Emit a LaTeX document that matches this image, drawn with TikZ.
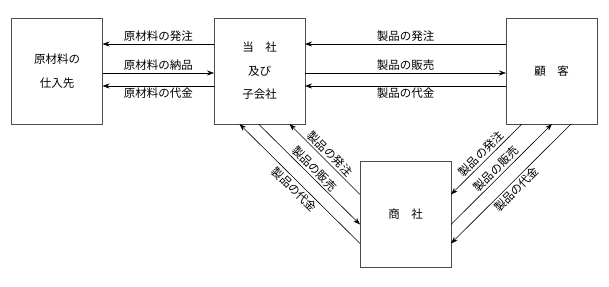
\documentclass[tikz,border=0pt]{standalone}
\usepackage{fontspec}
\newfontfamily\jpfont{Noto Sans CJK JP}
\usetikzlibrary{arrows.meta, positioning}

\begin{document}
\begin{tikzpicture}[
  x=1pt, y=-1pt,
  box/.style={draw=black!70, line width=0.9pt, minimum width=91pt,
              minimum height=106pt, inner sep=0pt, outer sep=0pt, align=center,
              font=\jpfont\fontsize{11.5}{23.5}\selectfont},
  lbl/.style={font=\jpfont\fontsize{11.5}{14}\selectfont, inner sep=2pt},
  arr/.style={-{Stealth[length=7pt, width=5pt]}, line width=0.6pt}
]
\useasboundingbox (0,0) rectangle (609,286);

%% ── BOXES ────────────────────────────────────────────────────────────────────

\node[box] (sup) at (57,71) {原材料の\\仕入先};

\node[box, right=111.5pt of sup] (comp) {当　社\\及び\\子会社};

\node[box, right=201pt of comp] (cust) {顧　客};

\node[box] (trade) at (405.5,214.5) {商　社};

%% ── ARROWS: supplier ─────────────────────────────────────────────────────────

\draw[arr] ([yshift=27pt]comp.west) -- node[lbl, above] {原材料の発注} ([yshift=27pt]sup.east);
\draw[arr] ([yshift=-2pt]sup.east)  -- node[lbl, above] {原材料の納品} ([yshift=-2pt]comp.west);
\draw[arr] ([yshift=-15pt]comp.west) -- node[lbl, below] {原材料の代金} ([yshift=-15pt]sup.east);

%% ── ARROWS: customer ─────────────────────────────────────────────────────────

\draw[arr] ([yshift=27pt]cust.west) -- node[lbl, above] {製品の発注} ([yshift=27pt]comp.east);
\draw[arr] ([yshift=-2pt]comp.east) -- node[lbl, above] {製品の販売} ([yshift=-2pt]cust.west);
\draw[arr] ([yshift=-15pt]cust.west) -- node[lbl, below] {製品の代金} ([yshift=-15pt]comp.east);

%% ── ARROWS: trading company ──────────────────────────────────────────────────

\draw[arr] ([yshift=20pt]trade.west)  -- node[lbl, sloped, above] {製品の発注} ([xshift=30pt]comp.south);
\draw[arr] ([xshift=-1pt]comp.south)  -- node[lbl, sloped, above] {製品の販売} ([yshift=-10pt]trade.west);
\draw[arr] ([yshift=-29pt]trade.west) -- node[lbl, sloped, below] {製品の代金} ([xshift=-20pt]comp.south);

\draw[arr] ([xshift=-29.5pt]cust.south) -- node[lbl, sloped, above] {製品の発注} ([yshift=20pt]trade.east);
\draw[arr] ([yshift=-10pt]trade.east)   -- node[lbl, sloped, above] {製品の販売} ([xshift=0.5pt]cust.south);
\draw[arr] ([xshift=19.5pt]cust.south)  -- node[lbl, sloped, below] {製品の代金} ([yshift=-29pt]trade.east);

\end{tikzpicture}
\end{document}
